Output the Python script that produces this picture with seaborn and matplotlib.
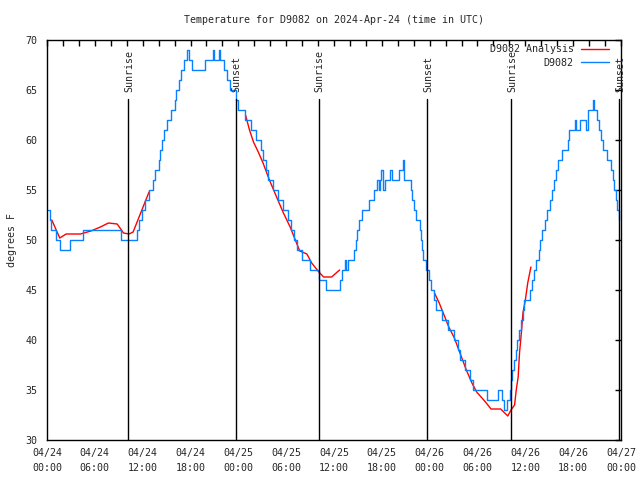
import numpy as np
import pandas as pd
import matplotlib
matplotlib.use("Agg")
import matplotlib.pyplot as plt
from matplotlib.lines import Line2D
import seaborn as sns

# ---------------- data ----------------
# hours since 2024-04-24 00:00 UTC, observed temperature (deg F), step breakpoints
obs_hours = [0.1, 0.38, 0.55, 1.13, 1.6, 2.9, 4.5, 9.3, 11.35, 11.6, 11.95, 12.35,
             12.75, 13.3, 13.6, 14.0, 14.2, 14.4, 14.7, 15.0, 15.5, 16.0, 16.2, 16.5,
             16.8, 17.2, 17.6, 17.8, 18.2, 19.8, 20.85, 20.95, 21.6, 21.75, 22.2, 22.6,
             23.0, 23.7, 24.0, 24.85, 25.6, 26.25, 26.85, 27.1, 27.45, 27.7, 28.35, 28.95,
             29.6, 30.2, 30.6, 31.0, 31.4, 31.95, 33.0, 34.1, 34.95, 36.75, 37.0, 37.35,
             37.55, 37.8, 38.55, 38.7, 38.85, 39.1, 39.45, 40.45, 41.0, 41.4, 41.6, 41.8,
             41.95, 42.1, 42.4, 43.05, 43.25, 44.1, 44.6, 44.8, 45.6, 45.8, 46.05, 46.3,
             46.75, 46.9, 47.0, 47.2, 47.55, 47.9, 48.2, 48.55, 48.8, 49.6, 50.3, 51.1,
             51.5, 51.8, 52.4, 53.0, 53.4, 55.2, 56.6, 57.1, 57.35, 57.75, 58.05, 58.15,
             58.35, 58.55, 58.8, 59.0, 59.2, 59.5, 59.7, 59.85, 60.55, 60.8, 61.1, 61.3,
             61.75, 61.9, 62.15, 62.45, 62.7, 63.1, 63.35, 63.55, 63.8, 64.1, 64.55, 65.3,
             65.45, 66.2, 66.35, 66.85, 67.6, 67.85, 68.45, 68.65, 68.95, 69.25, 69.5, 69.8,
             70.2, 70.75, 70.95, 71.15, 71.35, 71.55, 71.75, 71.8]
obs_temps = [53, 52, 51, 50, 49, 50, 51, 50, 51, 52, 53, 54,
             55, 56, 57, 58, 59, 60, 61, 62, 63, 64, 65, 66,
             67, 68, 69, 68, 67, 68, 69, 68, 69, 68, 67, 66,
             65, 64, 63, 62, 61, 60, 59, 58, 57, 56, 55, 54,
             53, 52, 51, 50, 49, 48, 47, 46, 45, 46, 47, 48,
             47, 48, 49, 50, 51, 52, 53, 54, 55, 56, 55, 56,
             57, 55, 56, 57, 56, 57, 58, 56, 55, 54, 53, 52,
             51, 50, 49, 48, 47, 46, 45, 44, 43, 42, 41, 40,
             39, 38, 37, 36, 35, 34, 35, 34, 33, 34, 35, 36,
             37, 38, 39, 40, 41, 42, 43, 44, 45, 46, 47, 48,
             49, 50, 51, 52, 53, 54, 55, 56, 57, 58, 59, 60,
             61, 62, 61, 62, 61, 63, 64, 63, 62, 61, 60, 59,
             58, 57, 56, 55, 54, 53, 52, 52]

# analysis series (three separate runs)
ana_hours = [0.6, 1.6, 2.4, 4.2, 5.5, 6.7, 7.7, 8.8, 9.6, 10.3, 10.8, 11.3, 11.9, 12.8,
             24.9, 25.4, 25.9, 26.5, 27.1, 27.9, 28.8, 29.6, 30.5, 31.3, 31.7, 32.6, 33.2,
             34.1, 34.7, 35.7, 36.7,
             48.6, 49.2, 49.8, 50.4, 51.1, 51.8, 52.6, 53.3, 53.9, 55.0, 55.7, 56.9, 57.8,
             58.2, 58.65, 58.86, 59.1, 59.27, 59.5, 59.7, 60.0, 60.3, 60.7]
ana_temps = [52.0, 50.2, 50.6, 50.6, 50.9, 51.3, 51.7, 51.6, 50.7, 50.6, 50.8, 51.8, 53.0, 54.8,
             62.5, 61.0, 59.8, 58.8, 57.7, 56.0, 54.3, 52.8, 51.3, 49.7, 48.9, 48.6, 47.7,
             46.8, 46.3, 46.3, 47.0,
             44.7, 43.7, 42.5, 41.3, 40.2, 38.7, 37.0, 35.7, 34.8, 33.8, 33.1, 33.1, 32.4,
             33.0, 33.5, 35.0, 36.3, 38.7, 40.7, 42.7, 44.0, 45.7, 47.3]
ana_run = [1] * 14 + [2] * 17 + [3] * 23

sunrise_hours = [10.2, 34.1, 58.2]
sunset_hours = [23.65, 47.7, 71.75]

tick_hours = list(range(0, 73, 6))
tick_labels = ["04/24\n00:00", "04/24\n06:00", "04/24\n12:00", "04/24\n18:00",
               "04/25\n00:00", "04/25\n06:00", "04/25\n12:00", "04/25\n18:00",
               "04/26\n00:00", "04/26\n06:00", "04/26\n12:00", "04/26\n18:00",
               "04/27\n00:00"]

# ---------------- plot ----------------
sns.set_style("white")
plt.rcParams["font.family"] = ["DejaVu Sans Mono", "DejaVu Sans"]
FS = 7.2

obs = pd.DataFrame({"hour": obs_hours, "temp": obs_temps})
ana = pd.DataFrame({"hour": ana_hours, "temp": ana_temps, "run": ana_run})

fig = plt.figure(figsize=(6.4, 4.8), dpi=100)
ax = fig.add_axes([47 / 640, 40 / 480, 574 / 640, 400 / 480])

RED = "#ff0000"
BLUE = "#0a80ff"

sns.lineplot(data=ana, x="hour", y="temp", units="run", estimator=None,
             color=RED, lw=1.0, ax=ax, sort=False, legend=False)
sns.lineplot(data=obs, x="hour", y="temp", color=BLUE, lw=1.0, ax=ax,
             drawstyle="steps-post", sort=False, legend=False)

for h in sunrise_hours:
    ax.plot([h, h], [30, 64.1], color="black", lw=1.0)
    ax.text(h + 0.12, 64.8, "Sunrise", rotation=90, ha="center", va="bottom", fontsize=FS)
for h in sunset_hours:
    ax.plot([h, h], [30, 64.1], color="black", lw=1.0)
    ax.text(h + 0.12, 64.8, "Sunset", rotation=90, ha="center", va="bottom", fontsize=FS)

ax.set_xlim(0, 72)
ax.set_ylim(30, 70)
ax.set_xticks(tick_hours)
ax.set_xticklabels(tick_labels, fontsize=FS, linespacing=1.6)
ax.set_xticks(np.arange(0, 73, 2), minor=True)
ax.set_yticks(np.arange(30, 71, 5))
ax.set_yticklabels([str(v) for v in range(30, 71, 5)], fontsize=FS)
ax.tick_params(axis="both", which="both", direction="in", length=4, width=1,
               top=True, right=True, color="black")
ax.tick_params(axis="x", which="major", pad=6)
ax.tick_params(axis="y", which="major", pad=7)
for s in ax.spines.values():
    s.set_color("black")
    s.set_linewidth(1.0)

ax.set_xlabel("")
ax.set_ylabel("degrees F", fontsize=FS)
ax.yaxis.set_label_coords(-0.052, 0.5)
ax.set_title("Temperature for D9082 on 2024-Apr-24 (time in UTC)", fontsize=FS, pad=12)

handles = [Line2D([], [], color=RED, lw=1.0), Line2D([], [], color=BLUE, lw=1.0)]
leg = ax.legend(handles, ["D9082 Analysis", "D9082"], loc="upper right",
                bbox_to_anchor=(0.988, 1.003),
                frameon=False, fontsize=FS, markerfirst=False,
                handlelength=2.8, handletextpad=0.7, labelspacing=0.35,
                borderaxespad=0.25, borderpad=0.3)

fig.savefig("out.png", dpi=100)
